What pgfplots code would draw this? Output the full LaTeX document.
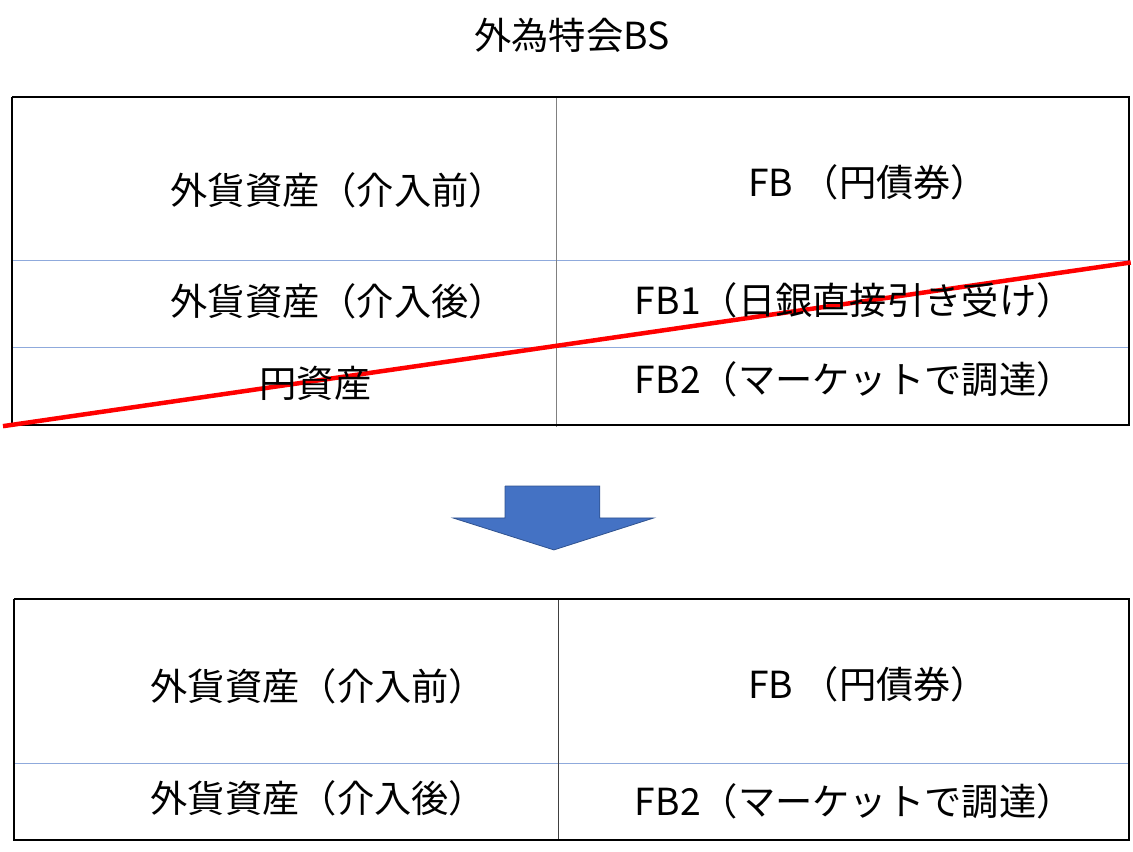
\documentclass[border=0pt]{standalone}
\usepackage{pgfplots}
\pgfplotsset{compat=1.18}
\usepackage{fontspec}
\setmainfont{Noto Sans CJK JP}
\definecolor{thinblue}{HTML}{8FAADC}
\definecolor{arrowfill}{HTML}{4472C4}
\definecolor{arrowdraw}{HTML}{2F528F}
\tikzset{lbl/.style={font=\fontsize{37.5}{44}\selectfont, inner sep=0pt, anchor=center}}
\begin{document}
\begin{tikzpicture}
\begin{axis}[
  width=1133bp, height=853bp, scale only axis,
  xmin=0, xmax=1133, ymin=0, ymax=853, y dir=reverse,
  hide axis, clip=false,
]
\addplot[draw=none] coordinates {(0,0) (1133,853)};
% top box
\addplot[thinblue, line width=1bp] coordinates {(12,261) (1131,261)};
\addplot[thinblue, line width=1bp] coordinates {(12,348) (1131,348)};
\addplot[gray, line width=1bp] coordinates {(558,97) (558,428)};
\addplot[black, line width=2bp] coordinates {(12,97) (1131,97) (1131,426) (12,426) (12,97)};
% bottom box
\addplot[thinblue, line width=1bp] coordinates {(14,765) (1131,765)};
\addplot[darkgray, line width=1bp] coordinates {(560,600) (560,842)};
\addplot[black, line width=2bp] coordinates {(14,600) (1131,600) (1131,842) (14,842) (14,600)};
% arrow
\addplot[fill=arrowfill, draw=arrowdraw, line width=0.8bp] coordinates {(506,487) (601,487) (601,519) (655,519) (555,551) (454,519) (506,519) (506,487)};
% red line
\addplot[red, line width=4.5bp] coordinates {(3,427) (1133,263)};
% texts
\node[lbl] at (axis cs:573,35) {外為特会BS};
\node[lbl] at (axis cs:339,191) {外貨資産（介入前）};
\node[lbl] at (axis cs:870,183) {FB （円債券）};
\node[lbl] at (axis cs:339,302) {外貨資産（介入後）};
\node[lbl] at (axis cs:856,301) {FB1（日銀直接引き受け）};
\node[lbl] at (axis cs:316,384) {円資産};
\node[lbl] at (axis cs:856,380) {FB2（マーケットで調達）};
\node[lbl] at (axis cs:319,688) {外貨資産（介入前）};
\node[lbl] at (axis cs:870,686) {FB （円債券）};
\node[lbl] at (axis cs:319,800) {外貨資産（介入後）};
\node[lbl] at (axis cs:856,803) {FB2（マーケットで調達）};
\end{axis}
\end{tikzpicture}
\end{document}
